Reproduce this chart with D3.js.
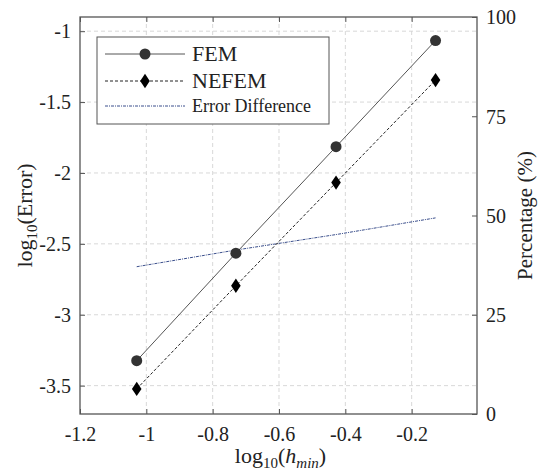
<!DOCTYPE html>
<html>
<head>
<meta charset="utf-8">
<script src="https://cdn.jsdelivr.net/npm/d3@7"></script>
<style>
  body { margin: 0; background: #fff; }
  #chart text, #chart tspan { font-family: "Liberation Serif", "Times New Roman", serif !important; }
</style>
</head>
<body>
<svg id="chart" width="538" height="475" font-family="Liberation Serif"></svg>
<script>
// data
let hMin = [-1.029, -0.73, -0.428, -0.128];
let femErr = [-3.324, -2.566, -1.815, -1.066];
let nefemErr = [-3.523, -2.796, -2.068, -1.345];
let errDiff = [37.1, 41.3, 45.2, 49.4];

let xTicks = [-1.2, -1, -0.8, -0.6, -0.4, -0.2];
let yTicks = [-1, -1.5, -2, -2.5, -3, -3.5];
let pctTicks = [0, 25, 50, 75, 100];

let fontName = "Liberation Serif";
let width = 538, height = 475;
let margin = {top: 17, right: 61, bottom: 61, left: 80};
let w = width - margin.left - margin.right;
let h = height - margin.top - margin.bottom;

let svg = d3.select("#chart");

let g = svg.append("g")
    .attr("transform", `translate(${margin.left}, ${margin.top})`);

let x = d3.scaleLinear().domain([-1.2, -0.003]).range([0, w]);
let y = d3.scaleLinear().domain([-3.7, -0.9]).range([h, 0]);
let yPct = d3.scaleLinear().domain([0, 100]).range([h, 0]);

let fmt = d => String(d).replace("−", "-");

// grid
g.selectAll(".vgrid")
    .data(xTicks.slice(1))
    .enter().append("line")
    .attr("x1", d => x(d)).attr("x2", d => x(d))
    .attr("y1", 0).attr("y2", h)
    .attr("stroke", "#d8d8d8")
    .attr("stroke-dasharray", "4,3");

g.selectAll(".hgrid")
    .data(yTicks)
    .enter().append("line")
    .attr("y1", d => y(d)).attr("y2", d => y(d))
    .attr("x1", 0).attr("x2", w)
    .attr("stroke", "#d8d8d8")
    .attr("stroke-dasharray", "4,3");

// axes (MATLAB style: ticks inside)
let axisColor = "#555";
let xAxis = g.append("g")
    .attr("transform", `translate(0, ${h})`)
    .call(d3.axisBottom(x).tickValues(xTicks).tickSize(-5).tickPadding(13).tickFormat(fmt));
let xAxisTop = g.append("g")
    .call(d3.axisTop(x).tickValues(xTicks).tickSize(-5).tickFormat(""));
let yAxis = g.append("g")
    .call(d3.axisLeft(y).tickValues(yTicks).tickSize(-5).tickPadding(9).tickFormat(fmt));
let yAxisR = g.append("g")
    .attr("transform", `translate(${w}, 0)`)
    .call(d3.axisRight(yPct).tickValues(pctTicks).tickSize(-5).tickPadding(9));

[xAxis, xAxisTop, yAxis, yAxisR].forEach(a => {
    a.attr("font-family", null).attr("font-size", null);
    a.select(".domain").remove();
    a.selectAll(".tick line").attr("stroke", axisColor);
    a.selectAll(".tick text")
        .style("font-family", fontName)
        .style("font-size", "20px")
        .attr("fill", "#222");
});
yAxisR.selectAll(".tick text").attr("dy", "0.34em");

// box
g.append("rect")
    .attr("width", w).attr("height", h)
    .attr("fill", "none")
    .attr("stroke", axisColor)
    .attr("stroke-width", 1.3);

// lines
let errLine = d3.line().x((d, i) => x(hMin[i])).y(d => y(d));
let pctLine = d3.line().x((d, i) => x(hMin[i])).y(d => yPct(d));

g.append("path")
    .datum(errDiff)
    .attr("d", pctLine)
    .attr("fill", "none")
    .attr("stroke", "#3b4f8c")
    .attr("stroke-width", 1)
    .attr("stroke-dasharray", "3,1,1,1");

g.append("path")
    .datum(femErr)
    .attr("d", errLine)
    .attr("fill", "none")
    .attr("stroke", "#555")
    .attr("stroke-width", 1);

g.append("path")
    .datum(nefemErr)
    .attr("d", errLine)
    .attr("fill", "none")
    .attr("stroke", "#222")
    .attr("stroke-width", 1)
    .attr("stroke-dasharray", "3,2");

g.selectAll(".femPt")
    .data(femErr)
    .enter().append("circle")
    .attr("cx", (d, i) => x(hMin[i]))
    .attr("cy", d => y(d))
    .attr("r", 5.5)
    .attr("fill", "#333");

let diamond = d3.symbol().type(d3.symbolDiamond).size(60);
g.selectAll(".nefemPt")
    .data(nefemErr)
    .enter().append("path")
    .attr("d", diamond)
    .attr("transform", (d, i) => `translate(${x(hMin[i])}, ${y(d)}) scale(1.15, 1)`)
    .attr("fill", "#000");

// legend
let legend = g.append("g")
    .attr("transform", `translate(${97 - margin.left}, ${37 - margin.top})`);
legend.append("rect")
    .attr("width", 232).attr("height", 87)
    .attr("fill", "#fff")
    .attr("stroke", axisColor)
    .attr("stroke-width", 1);

let items = [
    {name: "FEM", dy: 17, size: 22, color: "#555", dash: null, mark: "circle"},
    {name: "NEFEM", dy: 44, size: 22, color: "#222", dash: "3,2", mark: "diamond"},
    {name: "Error Difference", dy: 69, size: 18, color: "#3b4f8c", dash: "3,1,1,1", mark: null}
];
items.forEach(it => {
    let row = legend.append("g").attr("transform", `translate(0, ${it.dy})`);
    row.append("line")
        .attr("x1", 8).attr("x2", 88)
        .attr("stroke", it.color)
        .attr("stroke-width", 1)
        .attr("stroke-dasharray", it.dash);
    if (it.mark === "circle") {
        row.append("circle").attr("cx", 48).attr("r", 5.5).attr("fill", "#333");
    } else if (it.mark === "diamond") {
        row.append("path").attr("d", diamond)
            .attr("transform", "translate(48, 0) scale(1.15, 1)")
            .attr("fill", "#000");
    }
    row.append("text")
        .attr("x", 95)
        .attr("dy", "0.34em")
        .style("font-family", fontName)
        .style("font-size", it.size + "px")
        .attr("fill", "#222")
        .text(it.name);
});

// axis labels
let xl = svg.append("text")
    .attr("x", margin.left + w / 2 + 2)
    .attr("y", 463)
    .attr("text-anchor", "middle")
    .style("font-family", fontName)
    .style("font-size", "22px")
    .attr("fill", "#222");
xl.append("tspan").text("log");
xl.append("tspan").attr("baseline-shift", "-30%").style("font-size", "15px").text("10");
xl.append("tspan").text("(");
xl.append("tspan").style("font-style", "italic").text("h");
xl.append("tspan").attr("baseline-shift", "-30%").style("font-size", "15px").style("font-style", "italic").text("min");
xl.append("tspan").text(")");

let yl = svg.append("text")
    .attr("transform", `translate(32, ${margin.top + h / 2}) rotate(-90)`)
    .attr("text-anchor", "middle")
    .style("font-family", fontName)
    .style("font-size", "22px")
    .attr("fill", "#222");
yl.append("tspan").text("log");
yl.append("tspan").attr("baseline-shift", "-30%").style("font-size", "15px").text("10");
yl.append("tspan").text("(Error)");

svg.append("text")
    .attr("transform", `translate(532, ${margin.top + h / 2}) rotate(-90)`)
    .attr("text-anchor", "middle")
    .style("font-family", fontName)
    .style("font-size", "21px")
    .attr("fill", "#222")
    .text("Percentage (%)");
</script>
</body>
</html>
